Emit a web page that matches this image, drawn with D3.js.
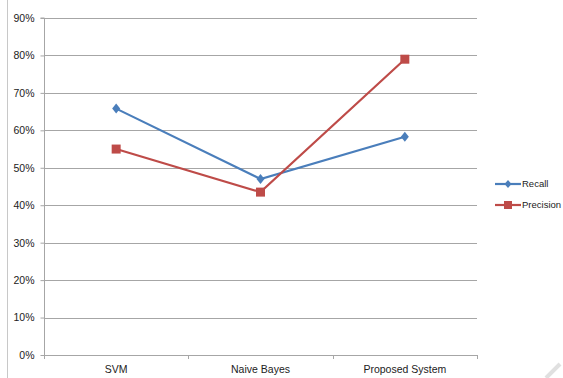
<!DOCTYPE html>
<html><head><meta charset="utf-8">
<script src="https://cdn.jsdelivr.net/npm/d3@7"></script>
<style>body{margin:0;background:#fff}svg{display:block}text{font-family:"Liberation Sans",Arial,sans-serif;fill:#222}</style>
</head><body>
<script>
const categories = ["SVM", "Naive Bayes", "Proposed System"];
const recall = [0.658, 0.47, 0.583];
const precision = [0.55, 0.435, 0.79];
const yTicks = [0, 0.1, 0.2, 0.3, 0.4, 0.5, 0.6, 0.7, 0.8, 0.9];
const seriesNames = ["Recall", "Precision"];

const W = 563, H = 378;
const m = {left: 44, right: 477, top: 18, bottom: 355};
const svg = d3.select("body").append("svg").attr("width", W).attr("height", H);

svg.append("line").attr("x1", 7.5).attr("x2", 7.5).attr("y1", 0).attr("y2", H).attr("stroke", "#c8c8c8");

const x = d3.scaleBand().domain(categories).range([m.left, m.right]);
const y = d3.scaleLinear().domain([0, 0.9]).range([m.bottom, m.top]);

svg.append("g").selectAll("line").data(yTicks.slice(1)).join("line")
  .attr("x1", m.left).attr("x2", m.right)
  .attr("y1", d => Math.round(y(d)) + 0.5).attr("y2", d => Math.round(y(d)) + 0.5)
  .attr("stroke", "#a6a6a6").attr("stroke-width", 1);

const ya = svg.append("g").attr("transform", `translate(${m.left + 0.5},0)`)
  .call(d3.axisLeft(y).tickValues(yTicks).tickFormat(d3.format(".0%")).tickSize(4).tickPadding(6));
ya.select(".domain").attr("stroke", "#a6a6a6").attr("d", `M-4,${m.top}H0V${m.bottom}`);
ya.selectAll(".tick line").attr("stroke", "#a6a6a6");
ya.selectAll(".tick text").attr("font-size", 10.5).style("fill", "#222");

const xa = svg.append("g").attr("transform", `translate(0,${m.bottom + 0.5})`)
  .call(d3.axisBottom(x).tickSize(0).tickPadding(10));
xa.select(".domain").attr("stroke", "#a6a6a6").attr("d", `M${m.left},0H${m.right}`);
xa.selectAll(".tick text").attr("font-size", 10.5).style("fill", "#222");
svg.append("g").selectAll("line").data(categories).join("line")
  .attr("x1", d => Math.round(x(d) + x.bandwidth()) + 0.5)
  .attr("x2", d => Math.round(x(d) + x.bandwidth()) + 0.5)
  .attr("y1", m.bottom).attr("y2", m.bottom + 4).attr("stroke", "#a6a6a6");
svg.append("line").attr("x1", m.left + 0.5).attr("x2", m.left + 0.5).attr("y1", m.bottom).attr("y2", m.bottom + 4).attr("stroke", "#a6a6a6");

const colors = ["#4a7ebb", "#be4b48"];
const data = [recall, precision];
const line = d3.line().x((d, i) => x(categories[i]) + x.bandwidth() / 2).y(d => y(d));

data.forEach((vals, s) => {
  svg.append("path").datum(vals).attr("d", line).attr("fill", "none")
    .attr("stroke", colors[s]).attr("stroke-width", 2.2);
  svg.append("g").selectAll("path").data(vals).join("path")
    .attr("transform", (d, i) => `translate(${x(categories[i]) + x.bandwidth() / 2},${y(d)})`)
    .attr("d", s === 0 ? "M0,-5L4,0L0,5L-4,0Z" : "M-4.5,-4.5H4.5V4.5H-4.5Z")
    .attr("fill", colors[s]);
});

const lg = svg.append("g");
seriesNames.forEach((name, s) => {
  const ly = 184 + s * 21;
  lg.append("line").attr("x1", 495).attr("x2", 521).attr("y1", ly).attr("y2", ly)
    .attr("stroke", colors[s]).attr("stroke-width", 2.2);
  lg.append("path").attr("transform", `translate(508,${ly})`)
    .attr("d", s === 0 ? "M0,-4L3.5,0L0,4L-3.5,0Z" : "M-4,-4H4V4H-4Z").attr("fill", colors[s]);
  lg.append("text").attr("x", 522).attr("y", ly).attr("dy", "0.35em")
    .attr("font-size", 9.5).text(name);
});

svg.append("line").attr("x1", 546).attr("y1", 378).attr("x2", 560).attr("y2", 364)
  .attr("stroke", "#e0e0e0").attr("stroke-width", 4);
</script>
</body></html>
